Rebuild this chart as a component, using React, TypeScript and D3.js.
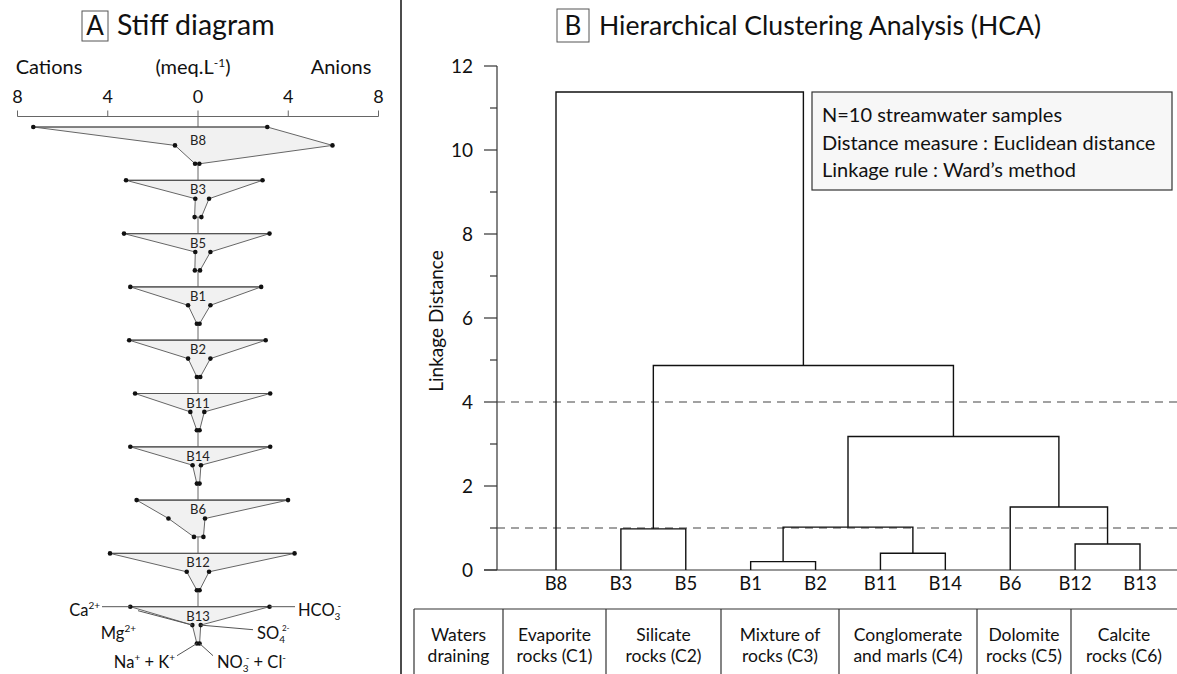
import React from "react";
import * as d3 from "d3";

// ---------- Stiff diagram data (meq/L) ----------
const samples = ["B8", "B3", "B5", "B1", "B2", "B11", "B14", "B6", "B12", "B13"];
const ca = [7.3, 3.19, 3.28, 3.0, 3.05, 2.79, 3.0, 2.72, 3.9, 3.0];
const mg = [1.02, 0.12, 0.12, 0.44, 0.44, 0.34, 0.24, 1.31, 0.5, 0.25];
const naK = [0.13, 0.15, 0.14, 0.05, 0.05, 0.05, 0.05, 0.18, 0.05, 0.05];
const hco3 = [3.07, 2.86, 3.17, 2.8, 3.0, 3.2, 3.2, 3.99, 4.28, 3.17];
const so4 = [5.96, 0.49, 0.55, 0.55, 0.55, 0.28, 0.13, 0.31, 0.49, 0.12];
const no3cl = [0.06, 0.15, 0.09, 0.07, 0.1, 0.07, 0.07, 0.24, 0.07, 0.07];
const stiffTicks = [-8, -4, 0, 4, 8];

// ---------- HCA data ----------
const leaves = ["B8", "B3", "B5", "B1", "B2", "B11", "B14", "B6", "B12", "B13"];
// [left child, right child, linkage distance]; merged clusters named m0, m1, ...
const merges: [string, string, number][] = [
  ["B1", "B2", 0.2],
  ["B11", "B14", 0.4],
  ["B12", "B13", 0.62],
  ["B3", "B5", 0.98],
  ["m0", "m1", 1.02],
  ["B6", "m2", 1.5],
  ["m4", "m5", 3.18],
  ["m3", "m6", 4.87],
  ["B8", "m7", 11.38],
];
const cutLevels = [4, 1];
const yTicksMajor = [0, 2, 4, 6, 8, 10, 12];
const yTicksMinor = [1, 3, 5, 7, 9, 11];
const infoLines = [
  "N=10 streamwater samples",
  "Distance measure : Euclidean distance",
  "Linkage rule : Ward\u2019s method",
];
const tableLine1 = ["Waters", "Evaporite", "Silicate", "Mixture of", "Conglomerate", "Dolomite", "Calcite"];
const tableLine2 = ["draining", "rocks (C1)", "rocks (C2)", "rocks (C3)", "and marls (C4)", "rocks (C5)", "rocks (C6)"];
const tableEdges = [414, 503, 606, 721, 839, 977, 1071, 1177];

const FONT = "Lato, 'Open Sans', sans-serif";

export default function App() {
  const W = 1177;
  const H = 674;

  // Stiff scales
  const sx = d3.scaleLinear().domain([-8, 8]).range([17.5, 378.5]);
  const sy = d3.scaleLinear().domain([0, samples.length - 1]).range([127, 606.7]);
  const rowGap = 18.4;
  const axisY = 116.5;

  // HCA scales
  const hx = d3.scalePoint<string>().domain(leaves).range([556, 1140]);
  const hy = d3.scaleLinear().domain([0, 12]).range([570, 66]);
  const axisX = 497;

  // build dendrogram segments
  const nodeX: Record<string, number> = {};
  const nodeH: Record<string, number> = {};
  leaves.forEach((l) => {
    nodeX[l] = hx(l) as number;
    nodeH[l] = 0;
  });
  const dendroPaths: string[] = [];
  merges.forEach(([a, b, h], i) => {
    const xa = nodeX[a], xb = nodeX[b];
    const p = d3.path();
    p.moveTo(xa, hy(nodeH[a]));
    p.lineTo(xa, hy(h));
    p.lineTo(xb, hy(h));
    p.lineTo(xb, hy(nodeH[b]));
    dendroPaths.push(p.toString());
    nodeX["m" + i] = (xa + xb) / 2;
    nodeH["m" + i] = h;
  });

  const polyLine = d3.line<[number, number]>();

  const last = samples.length - 1;
  const lastY = sy(last);

  return (
    <svg
      width={W}
      height={H}
      style={{ position: "absolute", left: 0, top: 0, background: "#fff" }}
      fontFamily={FONT}
    >
      <rect x={0} y={0} width={W} height={H} fill="#fff" />
      {/* separator */}
      <line x1={401} x2={401} y1={0} y2={H} stroke="#111" strokeWidth={1.5} />

      {/* ---------- Panel A ---------- */}
      <rect x={82} y={11} width={26} height={30} fill="none" stroke="#555" strokeWidth={1} />
      <text x={95} y={35} fontSize={26} textAnchor="middle" fill="#111">A</text>
      <text x={117} y={35} fontSize={28.5} fill="#111">Stiff diagram</text>

      <text x={49} y={74} fontSize={20} textAnchor="middle" fill="#111">Cations</text>
      <text x={193} y={74} fontSize={20} textAnchor="middle" fill="#111">
        (meq.L<tspan fontSize={12} dy={-7}>-1</tspan><tspan dy={7}>)</tspan>
      </text>
      <text x={341} y={74} fontSize={20} textAnchor="middle" fill="#111">Anions</text>
      {stiffTicks.map((t) => (
        <g key={t}>
          <text x={sx(t)} y={103} fontSize={18} textAnchor="middle" fill="#111">{Math.abs(t)}</text>
          <line x1={sx(t)} x2={sx(t)} y1={axisY - 6} y2={axisY} stroke="#666" />
        </g>
      ))}
      <line x1={sx(-8)} x2={sx(8)} y1={axisY} y2={axisY} stroke="#666" />
      <line x1={sx(0)} x2={sx(0)} y1={axisY} y2={lastY + 2 * rowGap} stroke="#666" />

      {samples.map((s, i) => {
        const y0 = sy(i);
        const pts: [number, number][] = [
          [sx(-ca[i]), y0],
          [sx(-mg[i]), y0 + rowGap],
          [sx(-naK[i]), y0 + 2 * rowGap],
          [sx(no3cl[i]), y0 + 2 * rowGap],
          [sx(so4[i]), y0 + rowGap],
          [sx(hco3[i]), y0],
        ];
        return (
          <g key={s}>
            <path d={polyLine(pts) + "Z"} fill="#f1f1f1" stroke="#666" strokeWidth={1} />
            <line x1={pts[0][0]} x2={pts[5][0]} y1={y0} y2={y0} stroke="#555" strokeWidth={1.2} />
            {pts.map((p, k) => (
              <circle key={k} cx={p[0]} cy={p[1]} r={2.3} fill="#111" />
            ))}
            <text x={sx(0)} y={y0 + (i === 0 ? 18 : 14)} fontSize={13} textAnchor="middle" fill="#222">{s}</text>
          </g>
        );
      })}

      {/* ion labels around last sample */}
      {(() => {
        const y0 = lastY;
        const i = last;
        return (
          <g fill="#111" fontSize={16.5}>
            <line x1={102} x2={sx(-ca[i])} y1={y0} y2={y0} stroke="#555" />
            <line x1={sx(hco3[i])} x2={295} y1={y0} y2={y0} stroke="#555" />
            <line x1={138} x2={sx(-mg[i])} y1={y0 + 4} y2={y0 + rowGap} stroke="#555" />
            <line x1={sx(so4[i])} x2={253} y1={y0 + rowGap} y2={y0 + 23} stroke="#555" />
            <line x1={sx(-naK[i])} x2={177} y1={y0 + 2 * rowGap} y2={y0 + 49} stroke="#555" />
            <line x1={sx(no3cl[i])} x2={213} y1={y0 + 2 * rowGap} y2={y0 + 49} stroke="#555" />
            <text x={100} y={y0 + 9} textAnchor="end">
              Ca<tspan fontSize={10} dy={-7}>2+</tspan>
            </text>
            <text x={298} y={y0 + 9}>
              HCO<tspan fontSize={10} dy={4}>3</tspan><tspan fontSize={10} dx={-3} dy={-11}>-</tspan>
            </text>
            <text x={136} y={y0 + 32} textAnchor="end">
              Mg<tspan fontSize={10} dy={-7}>2+</tspan>
            </text>
            <text x={257} y={y0 + 32}>
              SO<tspan fontSize={10} dy={4}>4</tspan><tspan fontSize={8} dx={-3} dy={-12}>2-</tspan>
            </text>
            <text x={175} y={y0 + 61} textAnchor="end">
              Na<tspan fontSize={10} dy={-7}>+</tspan><tspan dy={7}> + K</tspan><tspan fontSize={10} dy={-7}>+</tspan>
            </text>
            <text x={217} y={y0 + 61}>
              NO<tspan fontSize={10} dy={4}>3</tspan><tspan fontSize={10} dx={-3} dy={-11}>-</tspan><tspan dy={7}> + Cl</tspan><tspan fontSize={10} dy={-7}>-</tspan>
            </text>
          </g>
        );
      })()}

      {/* ---------- Panel B ---------- */}
      <rect x={557} y={9} width={32} height={33} fill="none" stroke="#555" strokeWidth={1} />
      <text x={573} y={35} fontSize={26} textAnchor="middle" fill="#111">B</text>
      <text x={599} y={35} fontSize={26.6} fill="#111">Hierarchical Clustering Analysis (HCA)</text>

      {/* axis */}
      <line x1={axisX} x2={axisX} y1={hy(12)} y2={hy(0)} stroke="#333" strokeWidth={1.2} />
      <line x1={axisX - 13} x2={W} y1={hy(0)} y2={hy(0)} stroke="#333" strokeWidth={1.2} />
      {yTicksMajor.map((t) => (
        <g key={t}>
          <line x1={axisX - 13} x2={axisX} y1={hy(t)} y2={hy(t)} stroke="#333" strokeWidth={1.2} />
          <text x={473} y={hy(t) + 6.5} fontSize={19} textAnchor="end" fill="#111">{t}</text>
        </g>
      ))}
      {yTicksMinor.map((t) => (
        <line key={t} x1={axisX - 7} x2={axisX} y1={hy(t)} y2={hy(t)} stroke="#333" strokeWidth={1.2} />
      ))}
      <text
        transform={`translate(443,321) rotate(-90)`}
        fontSize={19}
        textAnchor="middle"
        fill="#111"
      >
        Linkage Distance
      </text>

      {cutLevels.map((c) => (
        <line key={c} x1={axisX} x2={W} y1={hy(c)} y2={hy(c)} stroke="#444" strokeWidth={1.1} strokeDasharray="8,6" />
      ))}

      {dendroPaths.map((d, i) => (
        <path key={i} d={d} fill="none" stroke="#111" strokeWidth={1.4} />
      ))}

      {leaves.map((l) => (
        <text key={l} x={hx(l)} y={590} fontSize={18.5} textAnchor="middle" fill="#111">{l}</text>
      ))}

      {/* info box */}
      <rect x={812} y={92} width={360} height={98} fill="#f7f7f7" stroke="#333" strokeWidth={1.2} />
      {infoLines.map((t, i) => (
        <text key={i} x={822} y={122 + i * 27.5} fontSize={20} fill="#111">{t}</text>
      ))}

      {/* table */}
      <line x1={tableEdges[0]} x2={W} y1={609} y2={609} stroke="#333" strokeWidth={1.2} />
      {tableEdges.slice(0, -1).map((x, i) => (
        <line key={i} x1={x} x2={x} y1={609} y2={H} stroke="#333" strokeWidth={1.2} />
      ))}
      {tableLine1.map((t, i) => {
        const cx = (tableEdges[i] + tableEdges[i + 1]) / 2;
        return (
          <g key={i}>
            <text x={cx} y={641} fontSize={17.5} textAnchor="middle" fill="#111">{t}</text>
            <text x={cx} y={662} fontSize={17.5} textAnchor="middle" fill="#111">{tableLine2[i]}</text>
          </g>
        );
      })}
    </svg>
  );
}
